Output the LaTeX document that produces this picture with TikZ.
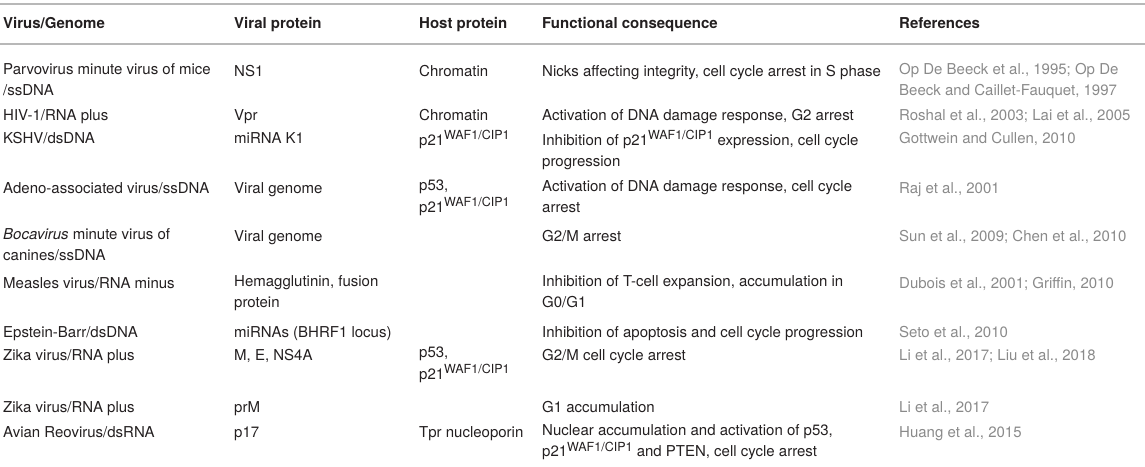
\documentclass[tikz,border=0pt]{standalone}
\usepackage{fontspec}
\setmainfont{TeX Gyre Heros}
\usepackage{tikz}

\definecolor{txt}{HTML}{231F20}
\definecolor{refgray}{HTML}{8A8A8A}
\definecolor{rulegray}{HTML}{B8B8B8}
\newcommand{\pwaf}{p21\raisebox{5.5pt}{\fontsize{12.5}{13}\selectfont WAF1/CIP1}}
\tikzset{
  cell/.style={anchor=north west, yshift=13pt, inner sep=0pt, align=left, text=txt,
    font=\fontsize{15}{21.5}\selectfont, execute at begin node={\rule{0pt}{13pt}}},
  head/.style={cell, font=\fontsize{15}{21.5}\selectfont\bfseries},
  refs/.style={cell, text=refgray},
  tabrule/.style={draw=rulegray, line width=1.3pt}
}

\begin{document}
\begin{tikzpicture}[x=1pt, y=-1pt]
				\useasboundingbox (0,0) rectangle (1145,466);
				\coordinate (tl) at (0,4);
				\coordinate (tr) at (1145,4);
				\coordinate (ml) at (0,44);
				\coordinate (mr) at (1145,44);
				\draw[tabrule] (tl) -- (tr) (ml) -- (mr);
				
				\path (3,28) node[head] (hv){Virus/Genome}
				(234,28) node[head] (hp){Viral protein}
				(419,28) node[head] (hh){Host protein}
				(542,28) node[head] (hf){Functional consequence}
				(899,28) node[head] (hr){References};
				
				\path (3,76) node[cell] (v1){Parvovirus minute virus of mice\\/ssDNA}
				(234,76) node[cell] (p1){NS1}
				(419,76) node[cell] (h1){Chromatin}
				(542,76) node[cell] (f1){Nicks affecting integrity, cell cycle arrest in S phase}
				(899,76) node[refs] (r1){Op De Beeck et al., 1995; Op De\\Beeck and Caillet-Fauquet, 1997};
				
				\path (3,120) node[cell] (v2){HIV-1/RNA plus}
				(234,120) node[cell] (p2){Vpr}
				(419,120) node[cell] (h2){Chromatin}
				(542,120) node[cell] (f2){Activation of DNA damage response, G2 arrest}
				(899,120) node[refs] (r2){Roshal et al., 2003; Lai et al., 2005};
				
				\path (3,143) node[cell] (v3){KSHV/dsDNA}
				(234,143) node[cell] (p3){miRNA K1}
				(419,143) node[cell] (h3){\pwaf}
				(542,143) node[cell] (f3){Inhibition of \pwaf{} expression, cell cycle\\progression}
				(899,143) node[refs] (r3){Gottwein and Cullen, 2010};
				
				\path (3,193) node[cell] (v4){Adeno-associated virus/ssDNA}
				(234,193) node[cell] (p4){Viral genome}
				(419,193) node[cell] (h4){p53,\\\pwaf}
				(542,193) node[cell] (f4){Activation of DNA damage response, cell cycle\\arrest}
				(899,193) node[refs] (r4){Raj et al., 2001};
				
				\path (3,241) node[cell] (v5){\textit{Bocavirus} minute virus of\\canines/ssDNA}
				(234,241) node[cell] (p5){Viral genome}
				(542,241) node[cell] (f5){G2/M arrest}
				(899,241) node[refs] (r5){Sun et al., 2009; Chen et al., 2010};
				
				\path (3,288) node[cell] (v6){Measles virus/RNA minus}
				(234,288) node[cell] (p6){Hemagglutinin, fusion\\protein}
				(542,288) node[cell] (f6){Inhibition of T-cell expansion, accumulation in\\G0/G1}
				(899,288) node[refs] (r6){Dubois et al., 2001; Griffin, 2010};
				
				\path (3,337) node[cell] (v7){Epstein-Barr/dsDNA}
				(234,337) node[cell] (p7){miRNAs (BHRF1 locus)}
				(542,337) node[cell] (f7){Inhibition of apoptosis and cell cycle progression}
				(899,337) node[refs] (r7){Seto et al., 2010};
				
				\path (3,360) node[cell] (v8){Zika virus/RNA plus}
				(234,360) node[cell] (p8){M, E, NS4A}
				(419,360) node[cell] (h8){p53,\\\pwaf}
				(542,360) node[cell] (f8){G2/M cell cycle arrest}
				(899,360) node[refs] (r8){Li et al., 2017; Liu et al., 2018};
				
				\path (3,412) node[cell] (v9){Zika virus/RNA plus}
				(234,412) node[cell] (p9){prM}
				(542,412) node[cell] (f9){G1 accumulation}
				(899,412) node[refs] (r9){Li et al., 2017};
				
				\path (3,437) node[cell] (v10){Avian Reovirus/dsRNA}
				(234,437) node[cell] (p10){p17}
				(419,437) node[cell] (h10){Tpr nucleoporin}
				(542,437) node[cell] (f10){Nuclear accumulation and activation of p53,\\\pwaf{} and PTEN, cell cycle arrest}
				(899,437) node[refs] (r10){Huang et al., 2015};
			\end{tikzpicture}
\end{document}
